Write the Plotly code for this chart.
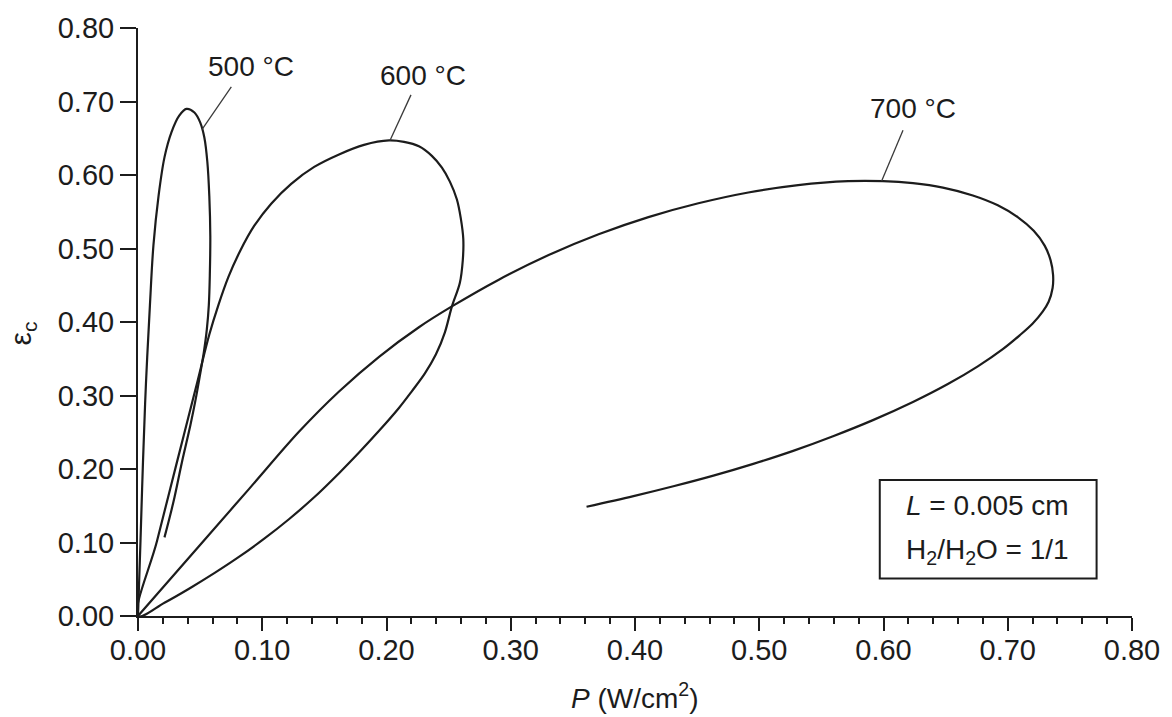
import plotly.graph_objects as go

# Efficiency (eps_c) against power density P for three operating temperatures
p_500 = [0, 0.0020, 0.0040, 0.0064, 0.0096, 0.0124, 0.0165, 0.0213, 0.0269, 0.0333,
         0.0390, 0.0454, 0.0502, 0.0534, 0.0558, 0.0574, 0.0582, 0.0578, 0.0570,
         0.0554, 0.0530, 0.0498, 0.0462, 0.0422, 0.0353, 0.0285, 0.0213]
eff_500 = [0, 0.102, 0.209, 0.316, 0.423, 0.504, 0.571, 0.624, 0.658, 0.681,
           0.690, 0.685, 0.671, 0.651, 0.618, 0.571, 0.517, 0.464, 0.423,
           0.390, 0.359, 0.327, 0.293, 0.260, 0.209, 0.155, 0.107]

p_600 = [0, 0.0153, 0.0313, 0.0474, 0.0574, 0.0647, 0.0727, 0.0823, 0.0936, 0.1072,
         0.1233, 0.1418, 0.1618, 0.1819, 0.2020, 0.2141, 0.2261, 0.2365, 0.2446,
         0.2510, 0.2566, 0.2598, 0.2618, 0.2614, 0.2590, 0.2526, 0.2470, 0.2398,
         0.2309, 0.2205, 0.2100, 0.1940, 0.1779, 0.1618, 0.1418, 0.1217, 0.1016,
         0.0815, 0.0614, 0.0414, 0.0213, 0]
eff_600 = [0, 0.102, 0.209, 0.316, 0.383, 0.423, 0.461, 0.497, 0.531, 0.561,
           0.588, 0.611, 0.628, 0.641, 0.647, 0.645, 0.639, 0.626, 0.610,
           0.591, 0.567, 0.541, 0.513, 0.484, 0.453, 0.421, 0.386, 0.356,
           0.330, 0.306, 0.283, 0.2519, 0.2224, 0.1943, 0.1615, 0.1320, 0.1052,
           0.0807, 0.0583, 0.0375, 0.0181, 0]

p_700 = [0, 0.0494, 0.0896, 0.1297, 0.1618, 0.1940, 0.2261, 0.2526, 0.2904, 0.3305,
         0.3707, 0.4108, 0.4510, 0.4912, 0.5313, 0.5715, 0.5996, 0.6237, 0.6478,
         0.6719, 0.6920, 0.7080, 0.7209, 0.7297, 0.7345, 0.7365, 0.7361, 0.7329,
         0.7281, 0.7201, 0.7096, 0.6960, 0.6759, 0.6518, 0.6237, 0.5915, 0.5594,
         0.5273, 0.4952, 0.4631, 0.4309, 0.3988, 0.3610]
eff_700 = [0, 0.0955, 0.1733, 0.2510, 0.3055, 0.3527, 0.3929, 0.4212, 0.4576, 0.4911,
           0.5193, 0.5427, 0.5615, 0.5762, 0.5863, 0.5916, 0.5916, 0.5889, 0.5829,
           0.5722, 0.5588, 0.5427, 0.5240, 0.5039, 0.4838, 0.4637, 0.4462, 0.4275,
           0.4141, 0.3980, 0.3819, 0.3631, 0.3397, 0.3156, 0.2912, 0.2665, 0.2446,
           0.2247, 0.2070, 0.1910, 0.1765, 0.1631, 0.1486]

temp_labels = ["500 °C", "600 °C", "700 °C"]

x_ticks = [0.0, 0.1, 0.2, 0.3, 0.4, 0.5, 0.6, 0.7, 0.8]
y_ticks = [0.0, 0.1, 0.2, 0.3, 0.4, 0.5, 0.6, 0.7, 0.8]

FONT = "Liberation Sans, Arial, Helvetica, sans-serif"
INK = "#1c1c1c"

fig = go.Figure()
for xs, ys, name in zip([p_500, p_600, p_700], [eff_500, eff_600, eff_700], temp_labels):
    fig.add_trace(go.Scatter(
        x=xs, y=ys, mode="lines", name=name,
        line=dict(color=INK, width=2.2, shape="spline", smoothing=1.0),
        showlegend=False, hoverinfo="skip",
    ))

# curve labels with leader lines: (label x, label y, leader start, leader end)
label_specs = [
    (0.0912, 0.748, (0.0751, 0.720), (0.0516, 0.662)),
    (0.2293, 0.736, (0.2197, 0.709), (0.2028, 0.647)),
    (0.6237, 0.690, (0.6157, 0.661), (0.5985, 0.592)),
]
for text, (lx, ly, (x0, y0), (x1, y1)) in zip(temp_labels, label_specs):
    fig.add_annotation(x=lx, y=ly, text=text, showarrow=False,
                       font=dict(family=FONT, size=28, color=INK))
    fig.add_shape(type="line", x0=x0, y0=y0, x1=x1, y1=y1,
                  line=dict(color="#3a3a3a", width=1.3))

# parameter box
fig.add_shape(type="rect", x0=0.597, y0=0.051, x1=0.7715, y1=0.185,
              line=dict(color=INK, width=2), fillcolor="white")
fig.add_annotation(x=0.684, y=0.150, text="<i>L</i> = 0.005 cm", showarrow=False,
                   font=dict(family=FONT, size=28, color=INK))
fig.add_annotation(x=0.684, y=0.088, text="H<sub>2</sub>/H<sub>2</sub>O = 1/1",
                   showarrow=False, font=dict(family=FONT, size=28, color=INK))

# axis titles
fig.add_annotation(xref="paper", yref="paper", x=0.5, y=0, xanchor="center",
                   yanchor="middle", yshift=-80,
                   text="<i>P</i> (W/cm<sup>2</sup>)", showarrow=False,
                   font=dict(family=FONT, size=28, color=INK))
fig.add_annotation(xref="paper", yref="paper", x=-0.116, y=0.48, xanchor="center",
                   yanchor="middle", textangle=-90,
                   text="ε<sub>c</sub>", showarrow=False,
                   font=dict(family=FONT, size=30, color=INK))

fig.update_layout(
    width=1172, height=717,
    margin=dict(l=138, r=38, t=19, b=101),
    paper_bgcolor="white", plot_bgcolor="white",
    font=dict(family=FONT, color=INK),
)
fig.update_xaxes(
    range=[0, 0.8], tickvals=x_ticks, ticktext=[f"{v:.2f}" for v in x_ticks],
    showgrid=False, zeroline=False, showline=True, linecolor=INK, linewidth=2,
    ticks="outside", ticklen=13, tickwidth=2, tickcolor=INK,
    ticklabelstandoff=-6,
    tickfont=dict(family=FONT, size=29, color=INK),
    minor=dict(ticks="outside", ticklen=6, tickwidth=1.6, tickcolor=INK, dtick=0.02,
               showgrid=False),
)
fig.update_yaxes(
    range=[0, 0.8], tickvals=y_ticks, ticktext=[f"{v:.2f}" for v in y_ticks],
    showgrid=False, zeroline=False, showline=True, linecolor=INK, linewidth=2,
    ticks="outside", ticklen=16, tickwidth=2, tickcolor=INK,
    tickfont=dict(family=FONT, size=29, color=INK),
)

fig.write_html("out.html")
